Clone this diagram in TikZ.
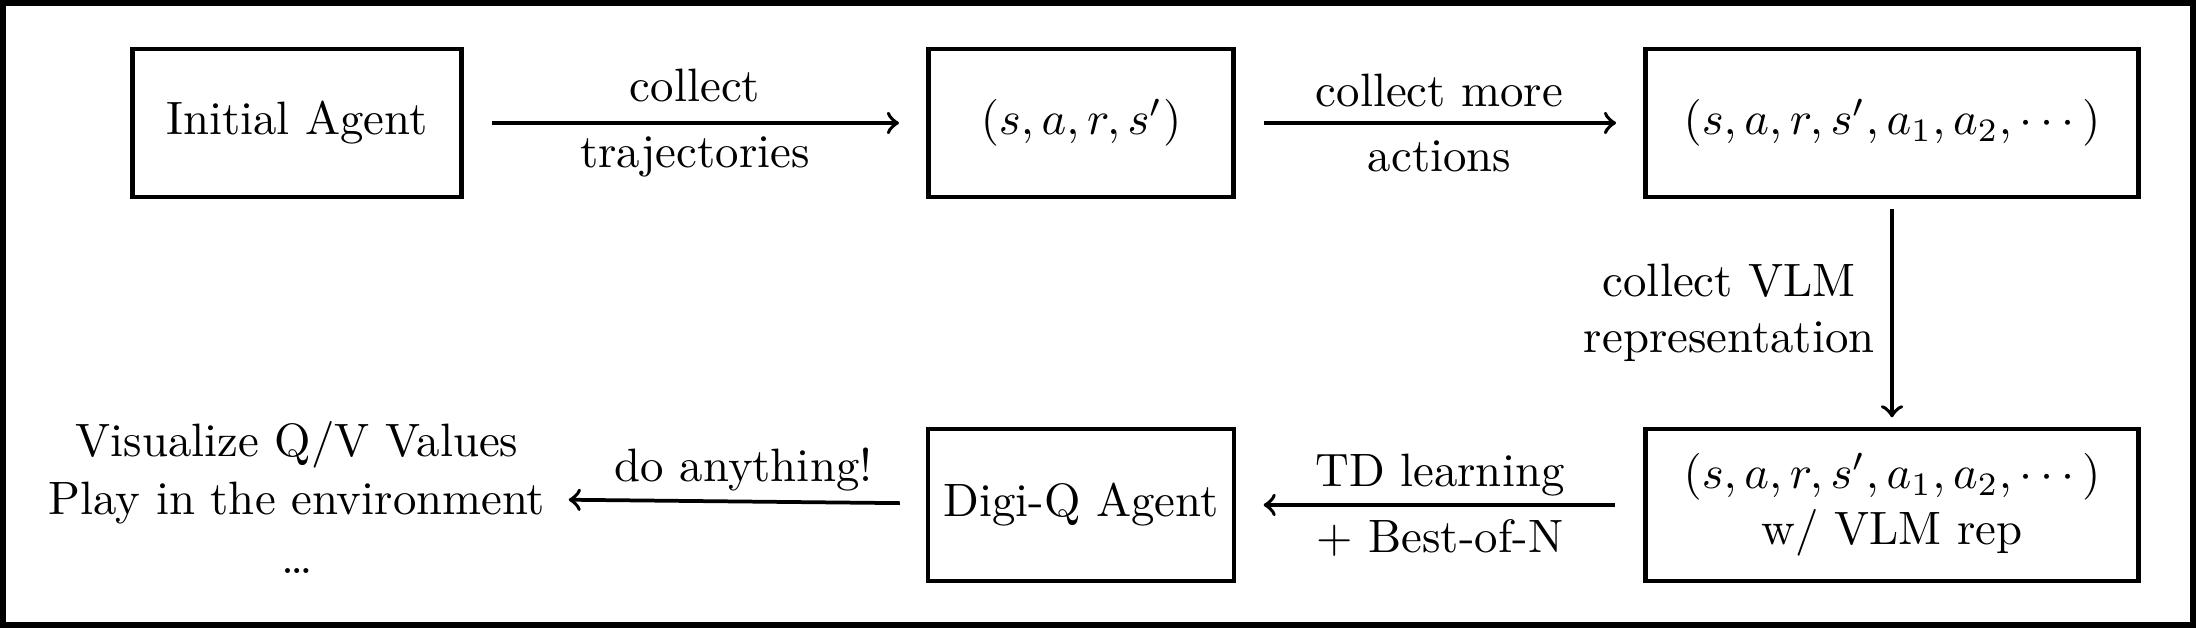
\documentclass[tikz,border=0pt]{standalone}
\usepackage{amsmath}
\usepackage{tikz}

\begin{document}
\begin{tikzpicture}[x=0.0075cm, y=-0.0075cm,
		stage/.style={draw, line width=1pt, minimum height=1.11cm, align=center},
		flow/.style={thick, ->, shorten >=5.8pt, shorten <=6pt},
		tag/.style={midway, align=center}]
			\useasboundingbox (0, 0) rectangle (2196, 628);
			\draw[line width=1.2pt] (2.8, 2.8) rectangle (2193.2, 625.2);

			% top row
			\node[stage, minimum width=2.47cm] (init) at (297, 123) {Initial Agent};
			\node[stage, minimum width=2.29cm] (tup) at (1081, 123) {$(s, a, r, s')$};
			\node[stage, minimum width=3.70cm] (ext) at (1892, 123) {$(s, a, r, s', a_1, a_2, \cdots)$};

			% bottom row
			\node[stage, minimum width=3.70cm, minimum height=1.14cm] (rep) at (1892, 505)
				{$(s, a, r, s', a_1, a_2, \cdots)$\\w/ VLM rep};
			\node[stage, minimum width=2.29cm, minimum height=1.14cm] (digiq) at (1081, 505) {Digi-Q Agent};
			\node[align=center] (use) at (297, 497) {Visualize Q/V Values\\[0.5pt]Play in the environment\\[0.5pt]\dots};

			\draw[flow] (init) -- (tup) node[tag]{collect\\[2pt]trajectories};
			\draw[flow] (tup) -- (ext) node[tag]{collect more\\[2pt]actions};
			\draw[flow, shorten >=2pt, shorten <=2pt] (ext) -- (rep)
				node[midway, left, align=center]{collect VLM\\representation};
			\draw[flow] (rep) -- (digiq) node[tag]{TD learning\\[2pt]+ Best-of-N};
			\draw[flow, shorten >=1.5pt, shorten <=5.5pt] (digiq) -- (use) node[tag, above, inner sep=1.8pt]{do anything!};

		\end{tikzpicture}
\end{document}
